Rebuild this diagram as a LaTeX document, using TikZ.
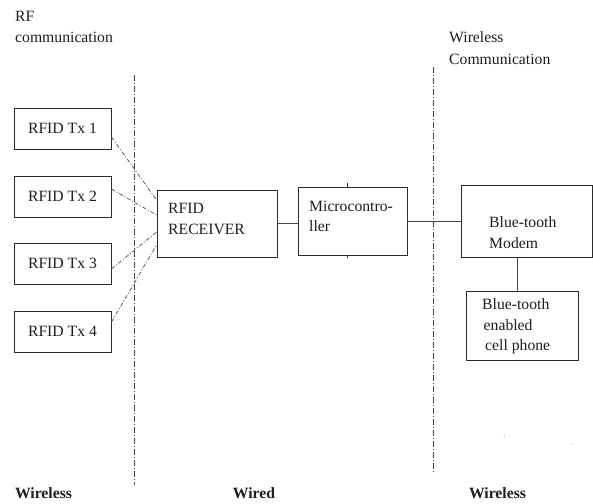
\documentclass[tikz,border=0pt]{standalone}
\usepackage{fontspec}
\setmainfont{Liberation Serif}
\definecolor{ink}{HTML}{1E1E1E}
\definecolor{edge}{HTML}{2A2A2A}
\definecolor{wire}{HTML}{444444}
\begin{document}
\begin{tikzpicture}[x=1pt,y=-1pt,
  font=\fontsize{15.7}{21}\selectfont,
  box/.style={draw=edge,line width=0.9pt,rectangle,inner sep=0pt},
  txt/.style={inner sep=0pt,anchor=base west,text=ink},
  lbl/.style={inner sep=0pt,anchor=base,text=ink,font=\fontsize{15.7}{21}\selectfont\bfseries},
  divider/.style={draw=wire,line width=0.9pt,dash pattern=on 6pt off 2pt on 1pt off 2pt},
  rfline/.style={draw=wire!85,line width=0.8pt,dash pattern=on 4pt off 2pt on 1pt off 2pt},
  wireline/.style={draw=wire,line width=1pt}]
\useasboundingbox (0,0) rectangle (593,503);
\fill[white] (0,0) rectangle (593,503);

% top labels
\node[txt] (rf1) at (15,22) {RF};
\node[txt] (rf2) at (15,42) {communication};
\node[txt] (wc1) at (449,43) {Wireless};
\node[txt] (wc2) at (449,64) {Communication};

% dividers
\coordinate (d1t) at (134,75);
\coordinate (d1b) at (134,485);
\coordinate (d2t) at (433,67);
\coordinate (d2b) at (433,472);
\draw[divider] (d1t) -- (d1b);
\draw[divider] (d2t) -- (d2b);

% transmitters
\node[box,minimum width=97pt,minimum height=41pt,text=ink] (tx1) at (62.5,128.5) {RFID Tx 1};
\node[box,minimum width=97pt,minimum height=41pt,text=ink] (tx2) at (62.5,196.5) {RFID Tx 2};
\node[box,minimum width=97pt,minimum height=41pt,text=ink] (tx3) at (62.5,263.5) {RFID Tx 3};
\node[box,minimum width=97pt,minimum height=41pt,text=ink] (tx4) at (62.5,331.5) {RFID Tx 4};

% receiver
\node[box,minimum width=120pt,minimum height=67pt] (rx) at (217,223.5) {};
\node[txt] (rxa) at (168,213) {RFID};
\node[txt] (rxb) at (168,234) {RECEIVER};

% microcontroller
\node[box,minimum width=109pt,minimum height=68pt] (mc) at (352.5,221) {};
\node[txt] (mca) at (309,211.5) {Microcontro-};
\node[txt] (mcb) at (309,231.5) {ller};
\draw[edge,line width=0.7pt] ([xshift=-5.5pt]mc.north) -- ([xshift=-5.5pt,yshift=4pt]mc.north);
\draw[edge,line width=0.7pt] ([xshift=-5.5pt]mc.south) -- ([xshift=-5.5pt,yshift=-3pt]mc.south);

% modem
\node[box,minimum width=131pt,minimum height=72pt] (md) at (526.5,221) {};
\node[txt] (mda) at (489,227) {Blue-tooth};
\node[txt] (mdb) at (489,248) {Modem};

% phone
\node[box,minimum width=112pt,minimum height=69pt] (ph) at (522,325.5) {};
\node[txt] (pha) at (482,309) {Blue-tooth};
\node[txt] (phb) at (483.5,330) {enabled};
\node[txt] (phc) at (485,350) {cell phone};

% RF links
\draw[rfline] ([yshift=-8.5pt]tx1.east) -- ([yshift=23.5pt]rx.west);
\draw[rfline] ([yshift=7.5pt]tx2.east) -- ([yshift=8.5pt]rx.west);
\draw[rfline] ([yshift=-5.5pt]tx3.east) -- ([yshift=-8.5pt]rx.west);
\draw[rfline] ([yshift=9.5pt]tx4.east) -- ([yshift=-21.5pt]rx.west);

% wired links
\draw[wireline] (rx.east) -- (rx.east -| mc.west);
\draw[wireline] (mc.east) -- (md.west);
\draw[wireline] ([xshift=-9.5pt]md.south) -- ([xshift=-9.5pt]md.south |- ph.north);

% specks
\fill[wire] (504,436) circle (0.5pt);
\fill[wire] (572,444) circle (0.5pt);

% bottom labels
\node[lbl] (bw1) at (43.5,498) {Wireless};
\node[lbl] (bw2) at (254,498) {Wired};
\node[lbl] (bw3) at (497.5,498) {Wireless};
\end{tikzpicture}
\end{document}
